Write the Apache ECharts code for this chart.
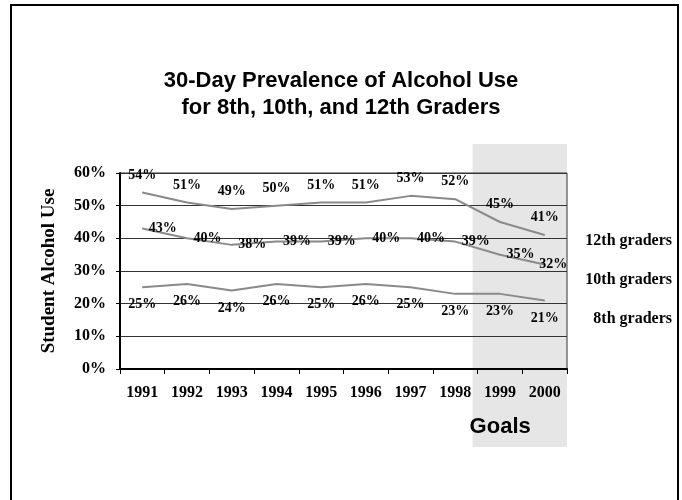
<!DOCTYPE html>
<html>
<head>
<meta charset="utf-8">
<script src="https://cdn.jsdelivr.net/npm/echarts@6/dist/echarts.min.js"></script>
<style>
  html, body { margin: 0; padding: 0; background: #fff; }
  #chart { width: 682px; height: 500px; }
</style>
</head>
<body>
<div id="chart"></div>
<script>
// Survey years on the category axis
const years = ['1991', '1992', '1993', '1994', '1995', '1996', '1997', '1998', '1999', '2000'];
// 30-day alcohol use, percent of students
const grade12 = [54, 51, 49, 50, 51, 51, 53, 52, 45, 41];
const grade10 = [43, 40, 38, 39, 39, 40, 40, 39, 35, 32];
const grade8 = [25, 26, 24, 26, 25, 26, 25, 23, 23, 21];
const seriesNames = ['12th graders', '10th graders', '8th graders'];
// Years treated as targets rather than observations
const goalYears = ['1999', '2000'];
const goalCaption = 'Goals';
// Value axis range and step
const yMin = 0, yMax = 60, yStep = 10;

const serif = '"Liberation Serif", "Times New Roman", serif';
const sans = '"Liberation Sans", Arial, sans-serif';
const lineColor = '#8a8a8a';

const chart = echarts.init(document.getElementById('chart'), null, { renderer: 'canvas' });

function lineSeries(name, values, labelPos, distance, lastOffset) {
  const last = values.length - 1;
  return {
    name: name,
    type: 'line',
    data: values.map((v, i) => (lastOffset && i === last)
      ? { value: v, label: { offset: lastOffset } }
      : v),
    symbol: 'circle',
    symbolSize: 1,
    showSymbol: true,
    itemStyle: { color: lineColor },
    lineStyle: { color: lineColor, width: 2 },
    label: {
      show: true,
      position: labelPos,
      distance: distance,
      formatter: p => p.value + '%',
      color: '#000',
      fontFamily: serif,
      fontWeight: 'bold',
      fontSize: 14
    },
    z: 3
  };
}

chart.setOption({
  animation: false,
  backgroundColor: '#fff',
  title: {
    text: '30-Day Prevalence of Alcohol Use\nfor 8th, 10th, and 12th Graders',
    left: 'center',
    top: 62,
    textStyle: {
      fontFamily: sans,
      fontWeight: 'bold',
      fontSize: 22,
      lineHeight: 27,
      color: '#000'
    }
  },
  grid: {
    left: 120,
    right: 115,
    top: 173,
    bottom: 131,
    show: true,
    borderColor: '#333',
    borderWidth: 1,
    backgroundColor: 'transparent'
  },
  xAxis: {
    type: 'category',
    data: years,
    boundaryGap: true,
    axisLine: { show: true, lineStyle: { color: '#000', width: 2 } },
    axisTick: { show: true, length: 5, interval: 0, lineStyle: { color: '#000', width: 1 } },
    axisLabel: {
      margin: 16,
      interval: 0,
      color: '#000',
      fontFamily: serif,
      fontWeight: 'bold',
      fontSize: 16
    },
    splitLine: { show: false }
  },
  yAxis: {
    type: 'value',
    min: yMin,
    max: yMax,
    interval: yStep,
    name: 'Student Alcohol Use',
    nameLocation: 'middle',
    nameGap: 61,
    nameRotate: 90,
    nameTextStyle: {
      fontFamily: serif,
      fontWeight: 'bold',
      fontSize: 19,
      color: '#000'
    },
    axisLine: { show: true, lineStyle: { color: '#000', width: 2 } },
    axisTick: { show: true, length: 4, lineStyle: { color: '#000' } },
    axisLabel: {
      formatter: '{value}%',
      margin: 14,
      color: '#000',
      fontFamily: serif,
      fontWeight: 'bold',
      fontSize: 16
    },
    splitLine: { show: true, lineStyle: { color: '#333', width: 1 } }
  },
  series: [
    lineSeries(seriesNames[0], grade12, 'top', 10),
    lineSeries(seriesNames[1], grade10, 'right', 6, [-12, 0]),
    lineSeries(seriesNames[2], grade8, 'bottom', 10)
  ]
});

// Shaded band behind the goal years, sized from the category axis
const c0 = chart.convertToPixel({ xAxisIndex: 0 }, years[0]);
const c1 = chart.convertToPixel({ xAxisIndex: 0 }, years[1]);
const band = c1 - c0;
const goalStart = chart.convertToPixel({ xAxisIndex: 0 }, goalYears[0]) - band / 2 - 5;
const goalEnd = chart.convertToPixel({ xAxisIndex: 0 }, goalYears[goalYears.length - 1]) + band / 2;

// Series captions at the right edge, one per grade line
const captionY = [241, 280, 319];

chart.setOption({
  graphic: [
    {
      type: 'rect',
      id: 'goal-band',
      z: -10,
      silent: true,
      shape: { x: goalStart, y: 144, width: goalEnd - goalStart, height: 303 },
      style: { fill: '#e6e6e6' }
    },
    {
      type: 'text',
      id: 'goal-caption',
      z: 5,
      x: goalStart - 3,
      y: 427,
      style: {
        text: goalCaption,
        fill: '#000',
        font: 'bold 22px ' + sans,
        textAlign: 'left',
        textVerticalAlign: 'middle'
      }
    },
    {
      type: 'rect',
      id: 'frame',
      z: 10,
      silent: true,
      shape: { x: 11, y: 5, width: 667, height: 520 },
      style: { fill: 'none', stroke: '#000', lineWidth: 2 }
    }
  ].concat(seriesNames.map((name, i) => ({
    type: 'text',
    id: 'caption-' + i,
    z: 5,
    x: 672,
    y: captionY[i],
    style: {
      text: name,
      fill: '#000',
      font: 'bold 16px ' + serif,
      textAlign: 'right',
      textVerticalAlign: 'middle'
    }
  })))
});
</script>
</body>
</html>
